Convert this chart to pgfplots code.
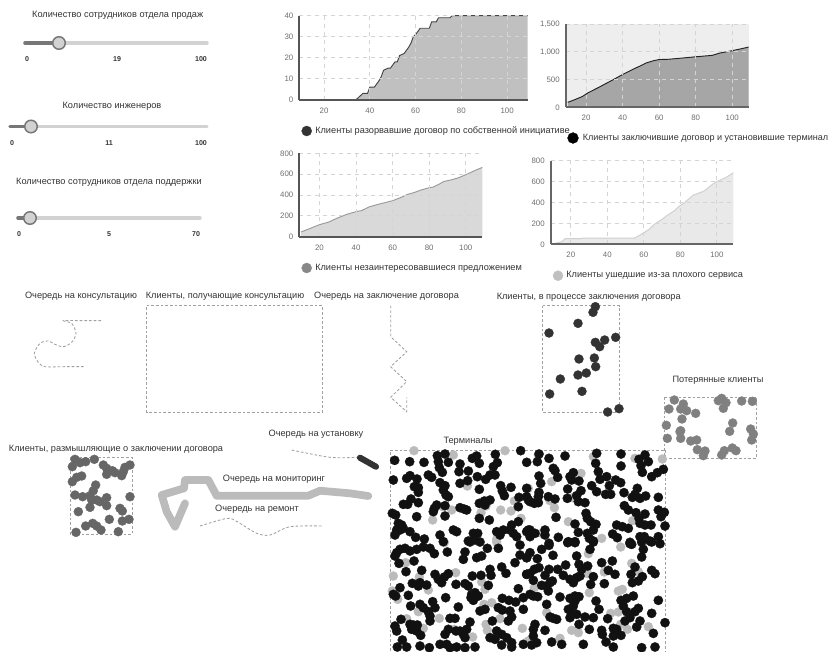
\documentclass[border=0pt]{standalone}
\usepackage{fontspec}
\setmainfont{Liberation Sans}
\usepackage{pgfplots}
\usepackage{pgfplotstable}
\pgfplotsset{compat=1.18}

% 1 px of the reference = 0.75pt
\definecolor{txt}{HTML}{333333}
\definecolor{ticktxt}{HTML}{6E6E6E}
\definecolor{gridc}{HTML}{D4D4D4}
\definecolor{dashc}{HTML}{A0A0A0}
\definecolor{trk}{HTML}{D2D2D2}
\definecolor{trkd}{HTML}{777777}
\definecolor{c00}{HTML}{000000}
\definecolor{c11}{HTML}{111111}
\definecolor{c22}{HTML}{222222}
\definecolor{c33}{HTML}{333333}
\definecolor{c44}{HTML}{444444}
\definecolor{c55}{HTML}{555555}
\definecolor{c66}{HTML}{666666}
\definecolor{c80}{HTML}{808080}
\definecolor{c88}{HTML}{888888}
\definecolor{c99}{HTML}{999999}
\definecolor{cA6}{HTML}{A6A6A6}
\definecolor{cBB}{HTML}{BBBBBB}
\definecolor{cC0}{HTML}{C0C0C0}
\definecolor{cCF}{HTML}{CFCFCF}
\definecolor{cD9}{HTML}{D9D9D9}
\definecolor{cE9}{HTML}{E9E9E9}
\definecolor{cEE}{HTML}{EEEEEE}

\pgfplotstableread{
x y
10 0
34 0
36 2
37 3
39 3
40 6
42 6
44 9
45 11
46 14
48 15
49 15
51 18
52 18
53 21
55 22
57 25
58 27
59 30
60 31
62 34
66 34
67 37
69 37
70 39
75 39
76 40
109 40
}\tblquit
\pgfplotstableread{
x y
10 90
14 140
18 195
21 260
27 360
31 430
35 500
40 590
46 690
50 750
53 800
57 840
60 860
65 865
72 885
80 910
89 935
93 975
100 1020
105 1055
109 1085
}\tblsign
\pgfplotstableread{
x y
10 45
15 80
20 115
25 140
30 180
35 215
40 240
43 250
47 285
52 310
60 345
65 380
68 405
72 425
75 445
80 470
82 475
85 500
88 530
92 545
96 565
100 595
105 635
109 665
}\tblnoint
\pgfplotstableread{
x y
10 0
11 8
15 25
17 55
25 55
27 60
55 60
58 90
60 110
63 145
66 195
70 240
73 280
77 325
79 360
82 395
87 470
90 490
93 510
98 580
100 600
105 640
109 685
}\tblbad

\pgfplotsset{
  panel/.style={
    anchor=south west, scale only axis, axis lines=left,
    axis line style={-, draw=#1, line width=1.5pt},
    grid=major, grid style={draw=gridc, line width=0.7pt, dash pattern=on 3pt off 3pt},
    axis on top, major tick length=0pt,
    xtick={20,40,60,80,100}, xmax=109, ymin=0,
    tick label style={font=\fontsize{5.9}{7}\selectfont, text=ticktxt},
    /pgf/number format/.cd, assume math mode=true, 1000 sep={,},
    /pgfplots/.cd, xticklabel style={yshift=-2.5pt}, yticklabel style={xshift=-1pt}
  },
  crop/.style 2 args={x filter/.expression={x/3+#1}, y filter/.expression={y/3+#2}},
  dots/.style 2 args={only marks, mark=*, mark size=#2, mark options={draw=#1, line width=0.2pt, fill=#1}},
  dash/.style={draw=dashc, line width=0.65pt, dash pattern=on 2pt off 1.5pt, no marks},
  track/.style={draw=#1, line width=2.6pt, line cap=round, no marks}
}
\newcommand\lab[3]{\node[anchor=center, text=txt, font=\fontsize{6.9}{8}\selectfont, inner sep=0pt] at (axis cs:#1,#2) {#3};}
\newcommand\leftlab[3]{\node[anchor=west, text=txt, font=\fontsize{6.9}{8}\selectfont, inner sep=0pt] at (axis cs:#1,#2) {#3};}
\newcommand\slab[3]{\node[anchor=center, text=txt, font=\bfseries\fontsize{5.3}{7}\selectfont, inner sep=0pt] at (axis cs:#1,#2) {#3};}

\begin{document}
\begin{tikzpicture}
\useasboundingbox (0,0) rectangle (621pt,488.25pt);
\clip (0,0) rectangle (621pt,488.25pt);

% Top left chart
\begin{axis}[panel=c55, at={(224.5pt,413.5pt)}, width=171.3pt, height=63pt,
  xmin=9.2, ymax=40, ytick={0,10,20,30,40}]
  \addplot[fill=cC0, draw=none] table {\tblquit} \closedcycle;
  \addplot[draw=c44, line width=0.7pt, no marks] table {\tblquit};
\end{axis}

% Top right chart
\begin{axis}[panel=c66, at={(424.3pt,407.75pt)}, width=137.2pt, height=62.5pt,
  xmin=8.9, ymax=1500, ytick={0,500,1000,1500},
  axis background/.style={fill=cEE}, scaled y ticks=false]
  \addplot[fill=cA6, draw=none] table {\tblsign} \closedcycle;
  \addplot[draw=c22, line width=0.7pt, no marks] table {\tblsign};
\end{axis}

% Bottom left chart
\begin{axis}[panel=c55, at={(224.5pt,310.75pt)}, width=137.2pt, height=62.5pt,
  xmin=9, ymax=800, ytick={0,200,400,600,800}]
  \addplot[fill=cD9, draw=none] table {\tblnoint} \closedcycle;
  \addplot[draw=c99, line width=0.7pt, no marks] table {\tblnoint};
\end{axis}

% Bottom right chart
\begin{axis}[panel=c66, at={(413pt,305pt)}, width=137pt, height=62.7pt,
  xmin=9, ymax=800, ytick={0,200,400,600,800}]
  \addplot[fill=cE9, draw=none] table {\tblbad} \closedcycle;
  \addplot[draw=cCF, line width=0.7pt, no marks] table {\tblbad};
\end{axis}

% Everything else, in reference pixels (y downwards)
\begin{axis}[at={(0pt,0pt)}, anchor=south west, scale only axis, width=621pt, height=488.25pt,
  xmin=0, xmax=828, ymin=0, ymax=651, y dir=reverse, hide axis, clip=false]

  % sliders
  \addplot[track=trk] coordinates {(25,43) (207,43)};
  \addplot[track=trkd] coordinates {(25,43) (59,43)};
  \addplot[track=trk] coordinates {(10,126.5) (207,126.5)};
  \addplot[track=trkd] coordinates {(10,126.5) (31,126.5)};
  \addplot[track=trk] coordinates {(18,218) (200,218)};
  \addplot[track=trkd] coordinates {(18,218) (30,218)};
  \addplot[only marks, mark=*, mark size=4.7pt, mark options={draw=trkd, line width=1.1pt, fill=trk}]
    coordinates {(59,43) (31,126.5) (30,218)};

  % queues
  \addplot[dash, smooth, crop={0}{285}] coordinates {
    (303,107) (250,107) (190,107) (215,115) (228,145) (215,172) (190,185) (165,178) (145,168)
    (120,175) (103,205) (115,232) (135,245) (195,245) (255,245)};
  \addplot[dash] coordinates {(390.7,305.7) (390.7,336.7) (406.7,351.7) (390.7,366.7) (406.7,381.7) (390.7,397.3) (406.7,411.7) (406.7,397.3)};
  \addplot[dash, smooth] coordinates {(291.7,450) (330,457.3) (358,457.3)};
  \addplot[dash, smooth] coordinates {(200,526) (220,520) (230,518.3) (240,523.3) (256.7,533.3) (270,535) (290,526.7) (321.7,526)};
  \addplot[draw=c33, line width=4.6pt, line cap=round, no marks] coordinates {(360,457.7) (376,466.7)};
  \addplot[draw=cBB, line width=5.8pt, line cap=round, line join=round, no marks] coordinates {
    (368.3,496) (350,493.3) (320,490.7) (308.3,495.7) (216.7,495.7) (208.3,480) (185,480) (184,488.3)
    (161.7,495) (166.7,511.7) (175,526.7) (185,503.3)};

  % boxes
  \addplot[dash] coordinates {(146.7,305.7) (322.3,305.7) (322.3,412.3) (146.7,412.3) (146.7,305.7)};
  \addplot[dash] coordinates {(542.7,305.7) (619.3,305.7) (619.3,412.3) (542.7,412.3) (542.7,305.7)};
  \addplot[dash] coordinates {(664.7,397) (756.7,397) (756.7,458) (664.7,458) (664.7,397)};
  \addplot[dash] coordinates {(70,457.7) (132.3,457.7) (132.3,534) (70,534) (70,457.7)};
  \addplot[dash] coordinates {(390.7,651) (390.7,450) (665.7,450) (665.7,651)};

  % legend dots
  \addplot[dots={c33}{3.8pt}] coordinates {(306.7,131)};
  \addplot[dots={c00}{4.1pt}] coordinates {(573,138)};
  \addplot[dots={c88}{3.8pt}] coordinates {(306.7,268)};
  \addplot[dots={cC0}{3.8pt}] coordinates {(558,275.7)};

  % clients signing a contract
  \addplot[dots={c33}{3.4pt}, crop={490}{285}] coordinates {
    (316,65) (309,82) (264,115) (177,144) (377,157) (344,165) (316,172) (329,185) (313,219)
    (267,222) (317,245) (289,264) (264,270) (211,282) (179,327) (276,319) (353,381) (387,371)};

  % lost clients
  \addplot[dots={c80}{3.4pt}, crop={490}{285}] coordinates {
    (553,345) (537,372) (580,357) (572,372) (590,377) (617,385) (685,347) (695,340) (708,353)
    (700,370) (755,348) (787,349) (576,402) (728,414) (529,421) (572,437) (570,440) (719,439)
    (782,432) (790,447) (785,465) (532,460) (572,460) (602,468) (620,465) (622,494) (645,498)
    (640,512) (695,510) (703,497) (727,489) (738,497)};

  % clients thinking
  \addplot[dots={c66}{3.4pt}, crop={0}{425}] coordinates {
    (225,103) (240,113) (257,110) (283,103) (217,125) (310,120) (320,130) (337,137) (320,148)
    (345,143) (390,120) (375,127) (370,140) (365,152) (245,153) (230,157) (217,170) (287,180)
    (280,197) (225,210) (248,215) (270,212) (275,225) (290,225) (320,218) (300,230) (320,242)
    (390,215) (270,247) (235,260) (360,250) (367,258) (328,283) (367,288) (387,283) (278,295)
    (257,303) (290,303) (303,315) (228,322) (355,320)};

  % terminals, grey
  \addplot[dots={cBB}{3.4pt}, crop={385}{435}] coordinates {
    (87,47) (205,60) (360,47) (247,153) (173,215) (200,225) (303,213) (347,225) (378,228) (388,198)
    (288,233) (143,255) (408,250) (177,320) (335,313)};
  \addplot[dots={cBB}{3.4pt}, crop={525}{435}] coordinates {
    (40,60) (205,65) (330,70) (412,72) (168,115) (80,140) (75,197) (88,218) (10,160) (142,188)
    (323,257) (130,260) (230,310) (50,295)};
  \addplot[dots={cBB}{3.4pt}, crop={385}{541}] coordinates {
    (178,5) (25,105) (62,65) (103,108) (212,95) (130,147) (22,150) (38,175) (290,123) (300,145)
    (297,190) (320,185) (100,212) (65,233) (163,232) (115,262) (208,265) (303,250) (307,268) (345,233)
    (412,262) (263,288) (430,300) (335,3)};
  \addplot[dots={cBB}{3.4pt}, crop={525}{541}] coordinates {
    (190,38) (287,18) (320,67) (340,92) (188,98) (238,93) (28,140) (193,155) (280,150) (292,145)
    (65,215) (257,217) (280,213) (140,268) (160,275) (287,250) (307,265) (370,257) (10,300) (105,292)};

  % terminals, black
  \addplot[dots={c11}{3.5pt}, crop={385}{435}] coordinates {
    (29,76) (74,80) (117,82) (157,62) (180,57) (160,80) (190,82) (163,98) (172,112) (225,87)
    (262,70) (275,63) (283,85) (331,58) (407,47) (337,83) (325,95) (222,110) (250,108) (25,135)
    (65,130) (75,122) (96,132) (130,120) (140,127) (165,143) (180,152) (175,165) (183,180) (190,185)
    (225,145) (248,137) (277,125) (302,133) (315,120) (330,120) (283,163) (347,152) (352,168) (358,182)
    (378,157) (425,160) (100,158) (88,155) (100,172) (78,192) (100,203) (68,208) (55,208) (155,210)
    (148,220) (145,230) (180,212) (225,218) (237,222) (245,225) (283,205) (298,198) (315,195) (300,210)
    (402,187) (400,215) (430,195) (22,235) (32,240) (95,245) (180,243) (283,250) (205,285) (215,290)
    (313,255) (400,260) (40,265) (50,270) (35,285) (45,285) (55,280) (30,300) (75,290) (92,307)
    (118,312) (165,300) (265,295) (278,295) (250,318) (355,285) (345,300) (380,270) (375,285) (385,295)
    (395,305) (425,290) (435,285) (175,320) (270,315) (335,290)};
  \addplot[dots={c11}{3.5pt}, crop={525}{435}] coordinates {
    (42,57) (72,70) (120,63) (215,55) (288,57) (360,60) (5,82) (37,80) (212,85) (342,73)
    (370,80) (348,92) (288,93) (85,100) (90,107) (220,110) (352,112) (415,103) (397,113) (380,125)
    (42,123) (98,127) (145,113) (135,125) (140,135) (162,138) (225,133) (245,125) (272,135) (287,143)
    (47,145) (200,152) (253,152) (337,160) (128,162) (168,167) (155,182) (127,190) (42,172) (40,185)
    (215,170) (242,178) (257,178) (297,173) (330,178) (322,187) (345,190) (362,183) (400,187) (70,185)
    (90,192) (5,185) (15,200) (28,205) (40,203) (160,200) (180,203) (298,212) (310,225) (333,233)
    (360,237) (400,225) (418,232) (408,245) (342,250) (183,235) (187,250) (197,260) (93,247) (150,267)
    (213,268) (205,285) (345,265) (360,270) (378,270) (275,270) (292,275) (310,280) (420,273) (10,285)
    (60,285) (30,295) (60,300) (15,305) (160,292) (187,295) (193,310) (263,297) (277,308) (100,307)
    (205,318) (130,320) (150,320) (72,325) (315,322) (345,305) (358,305) (400,305) (375,318)};
  \addplot[dots={c11}{3.5pt}, crop={385}{541}] coordinates {
    (35,35) (30,45) (45,25) (60,22) (75,30) (95,25) (115,18) (135,22) (148,38) (187,33)
    (240,33) (235,55) (275,50) (290,45) (255,3) (285,3) (307,22) (340,22) (405,12) (405,42)
    (425,50) (390,65) (42,67) (87,60) (63,92) (110,88) (150,100) (160,115) (170,125) (178,108)
    (190,98) (262,105) (288,103) (315,85) (318,103) (350,78) (363,97) (425,100) (82,127) (100,135)
    (105,125) (125,132) (213,130) (240,128) (250,135) (310,133) (45,140) (25,160) (32,165) (70,163)
    (182,170) (260,160) (270,155) (258,170) (280,165) (265,178) (400,143) (415,170) (352,172) (372,178)
    (392,183) (77,195) (105,190) (115,200) (130,212) (143,182) (150,200) (135,225) (135,240) (220,198)
    (285,210) (300,205) (340,200) (352,207) (375,210) (415,205) (380,228) (370,240) (48,235) (30,255)
    (35,270) (75,250) (85,252) (97,252) (80,265) (95,270) (107,283) (195,232) (210,232) (255,243)
    (322,240) (190,265) (180,280) (213,270) (225,270) (245,265) (235,280) (240,290) (52,297) (37,318)
    (65,318) (105,315) (133,320) (165,310) (185,310) (195,320) (215,318) (315,290) (330,295) (335,270)
    (350,280) (365,290) (380,305) (350,312) (380,318) (415,310) (240,320) (270,318)};
  \addplot[dots={c11}{3.5pt}, crop={525}{541}] coordinates {
    (128,5) (150,5) (205,3) (72,13) (50,25) (15,35) (5,50) (37,53) (84,43) (155,45)
    (355,25) (350,48) (315,8) (350,3) (380,3) (405,8) (195,25) (230,65) (262,60) (320,10)
    (122,72) (162,70) (170,85) (188,75) (42,80) (28,85) (15,97) (5,100) (98,85) (72,85)
    (60,103) (250,88) (270,100) (330,78) (318,100) (380,88) (390,98) (352,107) (340,120) (322,125)
    (205,107) (115,103) (135,115) (155,110) (165,105) (145,125) (25,118) (50,133) (65,135) (75,125)
    (82,120) (70,150) (197,130) (238,128) (150,165) (135,172) (105,168) (162,167) (150,180) (15,160)
    (38,167) (25,165) (213,180) (288,178) (305,172) (325,165) (65,190) (145,195) (130,205) (140,215)
    (155,220) (135,230) (75,228) (85,232) (95,235) (180,228) (205,230) (222,205) (295,195) (305,212)
    (330,212) (340,202) (400,178) (380,217) (420,245) (315,230) (300,240) (248,233) (345,240) (335,258)
    (162,250) (193,265) (30,250) (25,265) (60,268) (230,268) (232,280) (265,262) (275,265) (265,285)
    (288,283) (385,277) (25,285) (35,305) (80,303) (110,310) (175,310) (243,303) (265,318) (20,312)
    (350,320) (390,318)};

  % slider texts
  \lab{117.7}{15}{Количество сотрудников отдела продаж}
  \lab{112}{106}{Количество инженеров}
  \lab{109}{182.5}{Количество сотрудников отдела поддержки}
  \slab{27}{59}{0} \slab{117}{59}{19} \slab{201}{59}{100}
  \slab{12}{143}{0} \slab{109}{143}{11} \slab{201}{143}{100}
  \slab{19}{234}{0} \slab{109}{234}{5} \slab{196}{234}{70}

  % legends
  \leftlab{315}{131}{Клиенты разорвавшие договор по собственной инициативе}
  \leftlab{582.5}{138}{\fontsize{6.8}{8}\selectfont Клиенты заключившие договор и установившие терминал}
  \leftlab{315}{268}{Клиенты незаинтересовавшиеся предложением}
  \leftlab{566}{275.7}{Клиенты ушедшие из-за плохого сервиса}

  % box titles
  \lab{81}{296.7}{Очередь на консультацию}
  \lab{225}{296.7}{Клиенты, получающие консультацию}
  \lab{386.5}{296.7}{Очередь на заключение договора}
  \lab{588.7}{297}{Клиенты, в процессе заключения договора}
  \lab{718}{380}{Потерянные клиенты}
  \lab{316}{434}{Очередь на установку}
  \lab{116}{449}{Клиенты, размышляющие о заключении договора}
  \lab{274}{479}{Очередь на мониторинг}
  \lab{257}{509}{Очередь на ремонт}
  \lab{468}{441}{Терминалы}
\end{axis}
\end{tikzpicture}
\end{document}
